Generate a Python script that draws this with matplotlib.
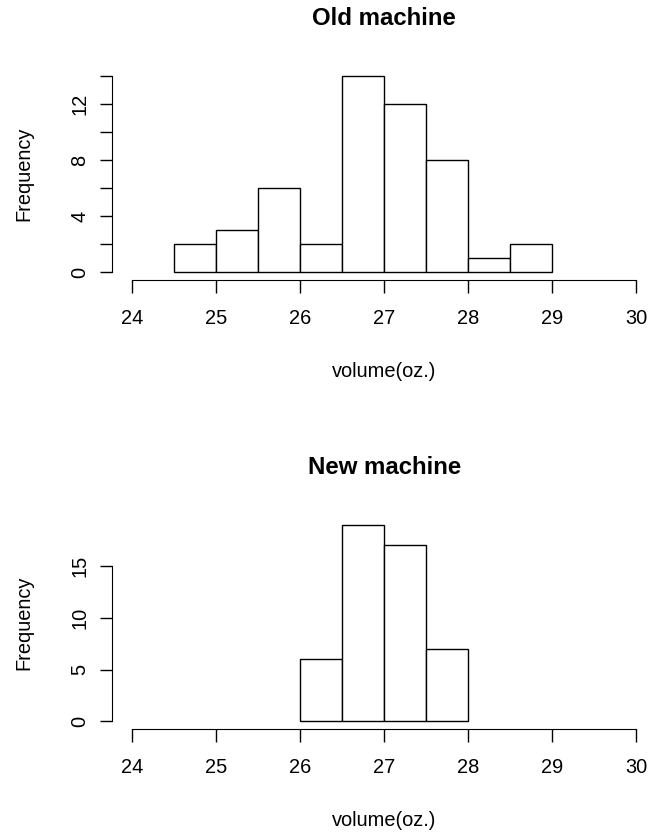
import numpy as np
import matplotlib
matplotlib.use("Agg")
import matplotlib.pyplot as plt

# bin edges (oz.) and counts
old_edges = [24.5, 25.0, 25.5, 26.0, 26.5, 27.0, 27.5, 28.0, 28.5, 29.0]
old_counts = [2, 3, 6, 2, 14, 12, 8, 1, 2]
new_edges = [26.0, 26.5, 27.0, 27.5, 28.0]
new_counts = [6, 19, 17, 7]

x_ticks = [24, 25, 26, 27, 28, 29, 30]
old_yticks = [0, 2, 4, 6, 8, 10, 12, 14]
old_ylabels = ["0", "", "4", "", "8", "", "12", ""]
new_yticks = [0, 5, 10, 15]
new_ylabels = ["0", "5", "10", "15"]

plt.rcParams["font.family"] = ["Liberation Sans", "DejaVu Sans"]
W, H = 651, 833
fig = plt.figure(figsize=(W / 100, H / 100), dpi=100)


def px_axes(left, top, right, bottom):
    return fig.add_axes([left / W, 1 - bottom / H, (right - left) / W, (bottom - top) / H])


def r_hist(ax, edges, counts, yticks, ylabels, title):
    edges = np.asarray(edges)
    ax.bar(edges[:-1], counts, width=np.diff(edges), align="edge",
           facecolor="white", edgecolor="black", linewidth=1.0)
    ymax = max(counts)
    ax.set_xlim(24 - 0.24, 30 + 0.24)
    ax.set_ylim(-0.04 * ymax, ymax * 1.04)
    for s in ("top", "right"):
        ax.spines[s].set_visible(False)
    ax.spines["bottom"].set_bounds(24, 30)
    ax.spines["left"].set_bounds(yticks[0], yticks[-1])
    ax.set_xticks(x_ticks)
    ax.set_xticklabels([str(t) for t in x_ticks])
    ax.set_yticks(yticks)
    ax.set_yticklabels(ylabels, rotation=90, va="center")
    ax.tick_params(axis="x", length=9, width=1.0, labelsize=14.4, pad=12)
    ax.tick_params(axis="y", length=8.5, width=1.0, labelsize=14.4, pad=8)
    ax.set_xlabel("volume(oz.)", fontsize=14.4)
    ax.xaxis.set_label_coords(0.5, -91 / 212.4)
    ax.xaxis.label.set_va("center")
    ax.set_ylabel("Frequency", fontsize=14.4)
    ax.yaxis.set_label_coords(-88 / 544.5, 0.5)
    ax.yaxis.label.set_va("center")
    ax.set_title(title, fontsize=17.3, fontweight="bold", pad=31)


ax1 = px_axes(112, 67.8, 656.5, 280.2)
r_hist(ax1, old_edges, old_counts, old_yticks, old_ylabels, "Old machine")

ax2 = px_axes(112, 516.8, 656.5, 729.2)
r_hist(ax2, new_edges, new_counts, new_yticks, new_ylabels, "New machine")

fig.savefig("out.png", dpi=100)
